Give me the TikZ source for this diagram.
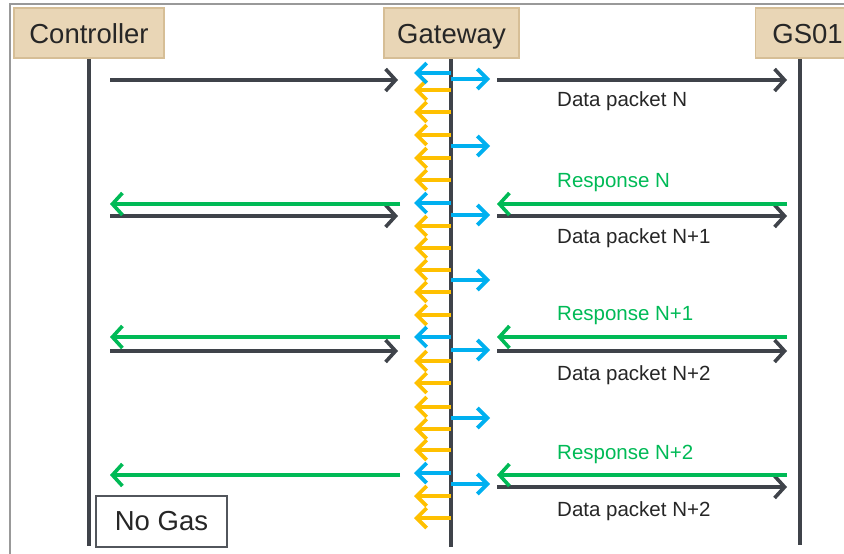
\documentclass[tikz,border=0pt]{standalone}
\usepackage{fontspec}
\setmainfont{Liberation Sans}
\usetikzlibrary{arrows.meta}
\definecolor{oscuro}{RGB}{63,67,74}
\definecolor{verde}{RGB}{0,186,86}
\definecolor{azul}{RGB}{0,176,240}
\definecolor{amarillo}{RGB}{255,192,0}
\definecolor{tan}{RGB}{233,214,182}
\definecolor{bordetan}{RGB}{214,190,150}
\definecolor{texto}{RGB}{38,38,38}
\tikzset{
  cabecera/.style={draw=bordetan,fill=tan,line width=1.2pt,minimum height=50pt,inner sep=0pt,
    text height=20pt,text depth=0pt,text=texto,font=\fontsize{27.5}{30}\selectfont},
  vida/.style={oscuro,line width=3.5pt},
  punta/.style={-{Straight Barb[length=10pt,width=22pt]},line width=3.6pt},
  dato/.style={punta,oscuro},
  resp/.style={punta,verde},
  amarilla/.style={-{Straight Barb[length=10pt,width=20pt]},line width=3.8pt,amarillo},
  azulita/.style={-{Straight Barb[length=10pt,width=20pt]},line width=3.8pt,azul},
  etiq/.style={anchor=west,inner sep=0pt,text=texto,font=\fontsize{20.5}{22}\selectfont},
  marco/.style={draw=gray!80,line width=1.2pt}
}
\begin{document}
\begin{tikzpicture}[x=1pt,y=-1pt]
\useasboundingbox (0,0) rectangle (844,554);
\clip (0,0) rectangle (844,554);
% marco
\draw[marco] (10,560) -- (10,4) -- (850,4);

% lineas de vida
\coordinate (ctlT) at (89,58);  \coordinate (ctlB) at (89,546);
\coordinate (gwT) at (451,58);  \coordinate (gwB) at (451,547);
\coordinate (gsT) at (800,58);  \coordinate (gsB) at (800,545);
\draw[vida] (ctlT) -- (ctlB);
\draw[vida] (gwT) -- (gwB);
\draw[vida] (gsT) -- (gsB);

% cabeceras
\node[cabecera,minimum width=150pt] (ctl) at (89,33) {Controller};
\node[cabecera,minimum width=135pt] (gw) at (451.5,33) {Gateway};
\node[cabecera,minimum width=104pt,anchor=west] (gs) at (755,33) {GS01};

% filas
\foreach \n/\y in {d1/80,d2/216,d3/351,d4/487,r1/204,r2/337,r3/475}
  \coordinate (\n) at (0,\y);

% paquetes de datos
\foreach \n in {d1,d2,d3}
  \draw[dato,shorten <=21pt,shorten >=53pt] (ctlT |- \n) -- (gwT |- \n);
\foreach \n in {d1,d2,d3,d4}
  \draw[dato,shorten <=46pt,shorten >=13pt] (gwT |- \n) -- (gsT |- \n);

% respuestas
\foreach \n in {r1,r2,r3}{
  \draw[resp,shorten <=13pt,shorten >=46pt] (gsT |- \n) -- (gwT |- \n);
  \draw[resp,shorten <=51pt,shorten >=21pt] (gwT |- \n) -- (ctlT |- \n);
}

% flechas del gateway
\foreach \y in {90,112,135,158,180,226,248,270,292,315,361,383,407,429,450,496,518}
  \draw[amarilla] (gwT |- 0,\y) -- ++(-37,0);
\foreach \y in {73,203,337,473}
  \draw[azulita] (gwT |- 0,\y) -- ++(-37,0);
\foreach \y in {79,146,215,280,350,418,484}
  \draw[azulita] (gwT |- 0,\y) -- ++(39,0);

% etiquetas
\node[etiq] (ld1) at (557,101) {Data packet N};
\node[etiq,text=verde] (lr1) at (557,183) {Response N};
\node[etiq] (ld2) at (557,238) {Data packet N+1};
\node[etiq,text=verde] (lr2) at (557,316) {Response N+1};
\node[etiq] (ld3) at (557,375) {Data packet N+2};
\node[etiq,text=verde] (lr3) at (557,454) {Response N+2};
\node[etiq] (ld4) at (557,511) {Data packet N+2};

\node[draw=oscuro!90,line width=1.5pt,fill=white,minimum width=131pt,minimum height=51pt,inner sep=0pt,
  text=texto,font=\fontsize{27.5}{30}\selectfont] (ng) at (161.5,521.5) {No Gas};
\end{tikzpicture}
\end{document}
